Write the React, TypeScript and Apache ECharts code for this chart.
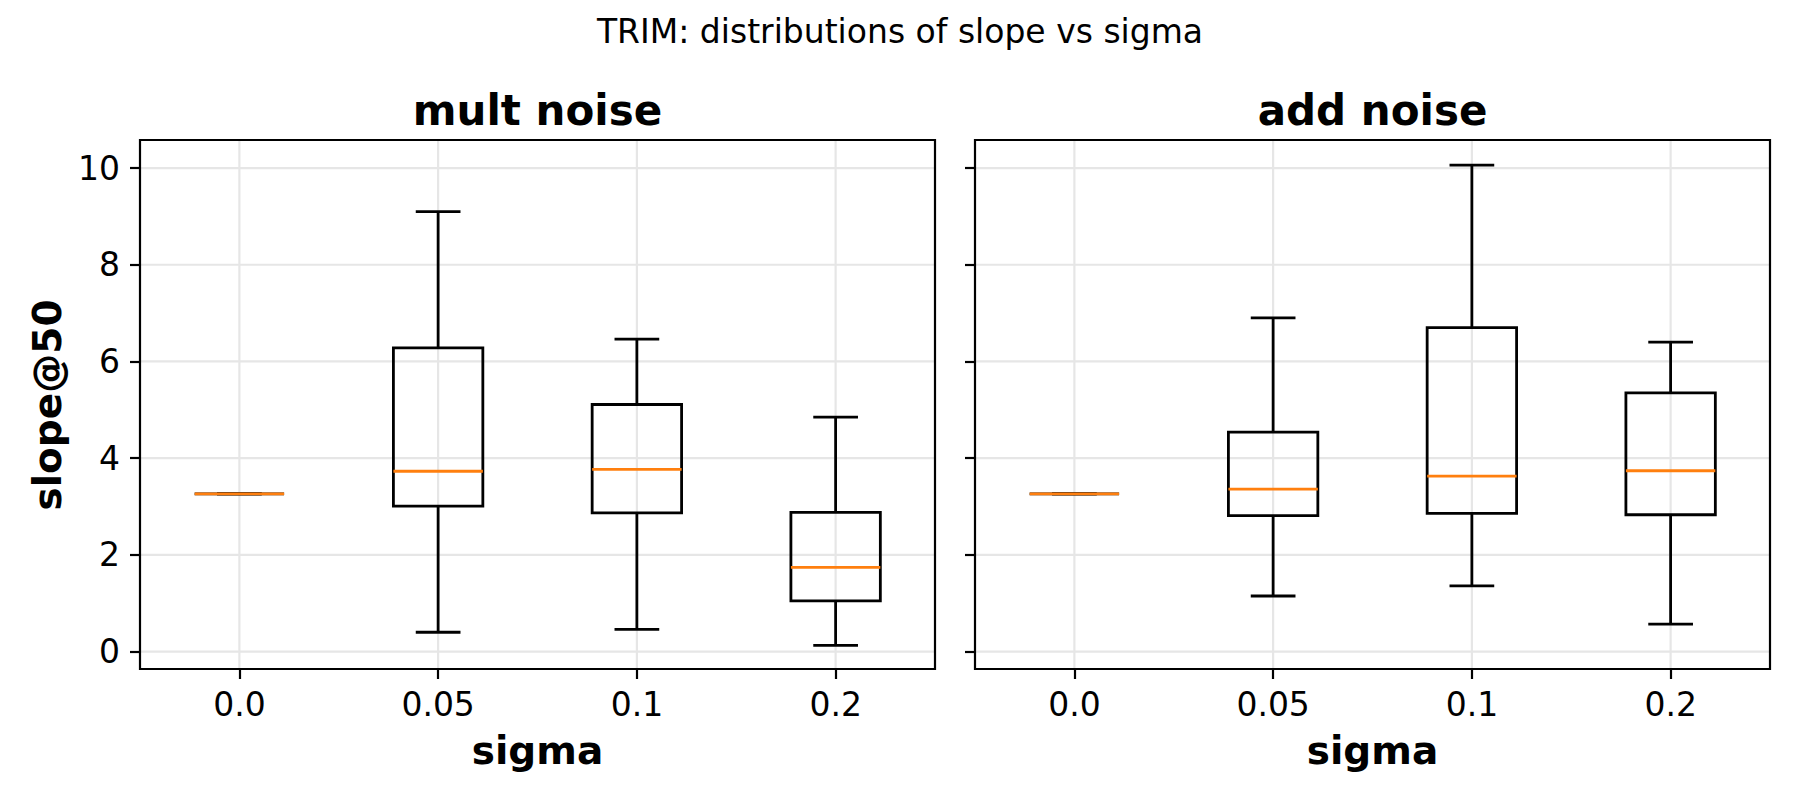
import React, { useEffect, useRef } from "react";
import * as echarts from "echarts";

// ---- data ----
const categories = ["0.0", "0.05", "0.1", "0.2"];
// [lowerWhisker, q1, median, q3, upperWhisker]
const multLow = [3.26, 0.4, 0.46, 0.13];
const multQ1 = [3.26, 3.01, 2.87, 1.05];
const multMed = [3.26, 3.73, 3.77, 1.74];
const multQ3 = [3.26, 6.28, 5.11, 2.88];
const multHigh = [3.26, 9.1, 6.46, 4.85];

const addLow = [3.26, 1.15, 1.36, 0.57];
const addQ1 = [3.26, 2.81, 2.86, 2.83];
const addMed = [3.26, 3.36, 3.63, 3.74];
const addQ3 = [3.26, 4.54, 6.7, 5.35];
const addHigh = [3.26, 6.9, 10.06, 6.4];

const yTicks = [0, 2, 4, 6, 8, 10];
const Y_MIN = -0.36;
const Y_MAX = 10.58;

const suptitle = "TRIM: distributions of slope vs sigma";
const panelTitles = ["mult noise", "add noise"];
const xName = "sigma";
const yName = "slope@50";

// ---- styles ----
const FONT = "DejaVu Sans";
const GRID_COLOR = "#e6e6e6";
const SPINE_W = 2.2;
const BOX_W = 2.8;
const MEDIAN_COLOR = "#ff7f0e";

const GRIDS = [
  { left: 140, top: 140, width: 795, height: 529 },
  { left: 975, top: 140, width: 795, height: 529 },
];

function buildBoxData(lo: number[], q1: number[], med: number[], q3: number[], hi: number[]) {
  return categories.map((_, i) => [i, lo[i], q1[i], med[i], q3[i], hi[i]]);
}

const boxRender = (params: any, api: any) => {
  const cat = api.value(0);
  const lo = api.value(1);
  const q1 = api.value(2);
  const med = api.value(3);
  const q3 = api.value(4);
  const hi = api.value(5);
  const cx = api.coord([cat, med])[0];
  const band = api.size([1, 0])[0];
  const bw = band * 0.45;
  const cw = band * 0.225;
  const y = (v: number) => api.coord([cat, v])[1];
  const stroke = { stroke: "#000", lineWidth: BOX_W, fill: "none" };
  return {
    type: "group",
    children: [
      { type: "line", shape: { x1: cx, y1: y(q3), x2: cx, y2: y(hi) }, style: stroke },
      { type: "line", shape: { x1: cx, y1: y(q1), x2: cx, y2: y(lo) }, style: stroke },
      { type: "line", shape: { x1: cx - cw / 2, y1: y(hi), x2: cx + cw / 2, y2: y(hi) }, style: stroke },
      { type: "line", shape: { x1: cx - cw / 2, y1: y(lo), x2: cx + cw / 2, y2: y(lo) }, style: stroke },
      {
        type: "rect",
        shape: { x: cx - bw / 2, y: y(q3), width: bw, height: y(q1) - y(q3) },
        style: { stroke: "#000", lineWidth: BOX_W, fill: "none" },
      },
      {
        type: "line",
        shape: { x1: cx - bw / 2, y1: y(med), x2: cx + bw / 2, y2: y(med) },
        style: { stroke: MEDIAN_COLOR, lineWidth: BOX_W },
      },
    ],
  };
};

const hGridRender = (params: any, api: any) => {
  const v = api.value(1);
  const yy = api.coord([0, v])[1];
  const cs = params.coordSys;
  return {
    type: "line",
    shape: { x1: cs.x, y1: yy, x2: cs.x + cs.width, y2: yy },
    style: { stroke: GRID_COLOR, lineWidth: SPINE_W },
  };
};

const vGridRender = (params: any, api: any) => {
  const c = api.value(0);
  const xx = api.coord([c, 0])[0];
  const cs = params.coordSys;
  return {
    type: "line",
    shape: { x1: xx, y1: cs.y, x2: xx, y2: cs.y + cs.height },
    style: { stroke: GRID_COLOR, lineWidth: SPINE_W },
  };
};

export default function App() {
  const ref = useRef<HTMLDivElement>(null);
  useEffect(() => {
    document.body.style.margin = "0";
    if (!ref.current) return;
    const chart = echarts.init(ref.current, undefined, { renderer: "svg" });

    const xAxes = GRIDS.map((_, i) => ({
      type: "category",
      gridIndex: i,
      data: categories,
      boundaryGap: true,
      axisLine: { show: false, onZero: false },
      axisTick: { show: true, alignWithLabel: true, length: 10, lineStyle: { color: "#000", width: SPINE_W } },
      axisLabel: { color: "#000", fontSize: 33, fontFamily: FONT, margin: 19 },
      splitLine: { show: false },
    }));
    const yAxes = GRIDS.map((_, i) => ({
      type: "value",
      gridIndex: i,
      min: Y_MIN,
      max: Y_MAX,
      axisLine: { show: false },
      axisTick: { show: true, length: 10, customValues: yTicks, lineStyle: { color: "#000", width: SPINE_W } },
      axisLabel: { show: i === 0, customValues: yTicks, color: "#000", fontSize: 33, fontFamily: FONT, margin: 20 },
      splitLine: { show: false },
    }));

    const series: any[] = [];
    GRIDS.forEach((_, i) => {
      series.push({
        type: "custom",
        xAxisIndex: i,
        yAxisIndex: i,
        z: 1,
        silent: true,
        renderItem: hGridRender,
        encode: { x: 0, y: 1 },
        data: yTicks.map((t) => [0, t]),
      });
      series.push({
        type: "custom",
        xAxisIndex: i,
        yAxisIndex: i,
        z: 1,
        silent: true,
        renderItem: vGridRender,
        encode: { x: 0, y: 1 },
        data: categories.map((_, k) => [k, 0]),
      });
    });
    series.push({
      type: "custom",
      name: panelTitles[0],
      xAxisIndex: 0,
      yAxisIndex: 0,
      z: 5,
      renderItem: boxRender,
      encode: { x: 0, y: [1, 2, 3, 4, 5] },
      data: buildBoxData(multLow, multQ1, multMed, multQ3, multHigh),
    });
    series.push({
      type: "custom",
      name: panelTitles[1],
      xAxisIndex: 1,
      yAxisIndex: 1,
      z: 5,
      renderItem: boxRender,
      encode: { x: 0, y: [1, 2, 3, 4, 5] },
      data: buildBoxData(addLow, addQ1, addMed, addQ3, addHigh),
    });

    const graphics: any[] = [
      {
        type: "text",
        x: 900,
        y: 31,
        style: { text: suptitle, fill: "#000", font: `33px "${FONT}"`, align: "center", verticalAlign: "middle" },
      },
      {
        type: "text",
        x: 47.5,
        y: 405,
        rotation: Math.PI / 2,
        style: { text: yName, fill: "#000", font: `bold 39px "${FONT}"`, align: "center", verticalAlign: "middle" },
      },
    ];
    GRIDS.forEach((g, i) => {
      const cx = g.left + g.width / 2;
      graphics.push({
        type: "text",
        x: cx,
        y: 110.5,
        style: { text: panelTitles[i], fill: "#000", font: `bold 42px "${FONT}"`, align: "center", verticalAlign: "middle" },
      });
      graphics.push({
        type: "text",
        x: cx,
        y: 750.5,
        style: { text: xName, fill: "#000", font: `bold 39px "${FONT}"`, align: "center", verticalAlign: "middle" },
      });
    });

    chart.setOption({
      animation: false,
      backgroundColor: "#fff",
      textStyle: { fontFamily: FONT },
      grid: GRIDS.map((g) => ({
        ...g,
        show: true,
        borderColor: "#000",
        borderWidth: SPINE_W,
        backgroundColor: "transparent",
        z: 10,
      })),
      xAxis: xAxes,
      yAxis: yAxes,
      series,
      graphic: graphics,
    });
    return () => chart.dispose();
  }, []);
  return <div ref={ref} style={{ width: 1800, height: 800 }} />;
}
